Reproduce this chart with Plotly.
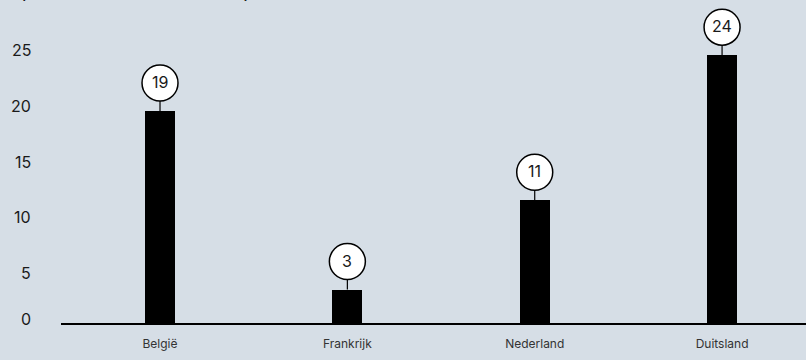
import plotly.graph_objects as go

categories = ["België", "Frankrijk", "Nederland", "Duitsland"]
values = [19, 3, 11, 24]
y_ticks = [0, 5, 10, 15, 20, 25]
title_text = "(in aantal nieuwe banen)"

BG = "#d6dee6"
FONT = "Inter, 'Noto Sans', sans-serif"
xs = list(range(len(categories)))

fig = go.Figure()
fig.add_trace(go.Bar(
    x=xs, y=values, width=0.16,
    marker=dict(color="#000000", line=dict(width=0)),
    hoverinfo="skip", showlegend=False,
))

shapes = []
annotations = []
for x, v in zip(xs, values):
    # connector line from bar top to circle
    shapes.append(dict(type="line", xref="x", yref="y", xsizemode="pixel", ysizemode="pixel",
                       xanchor=x, yanchor=v, x0=0, x1=0, y0=0, y1=11,
                       line=dict(color="#000000", width=1.2), layer="above"))
    shapes.append(dict(type="circle", xref="x", yref="y", xsizemode="pixel", ysizemode="pixel",
                       xanchor=x, yanchor=v, x0=-18, x1=18, y0=10, y1=46,
                       line=dict(color="#000000", width=1.5), fillcolor="#ffffff", layer="above"))
    annotations.append(dict(x=x, y=v, xref="x", yref="y", text=str(v), showarrow=False,
                            yshift=29, font=dict(family=FONT, size=16, color="#1a1a1a")))

for t in y_ticks:
    annotations.append(dict(x=0, y=t, xref="paper", yref="y", xanchor="right", text=str(t),
                            showarrow=False, xshift=-28, yshift=(4 if t == 0 else -6),
                            font=dict(family=FONT, size=16, color="#1a1a1a")))

annotations.append(dict(x=0, y=1, xref="paper", yref="paper", xanchor="left", yanchor="bottom",
                        xshift=-44, yshift=-5.5, text=title_text, showarrow=False,
                        font=dict(family=FONT, size=20, color="#1a1a1a")))

fig.update_layout(
    width=806, height=360,
    margin=dict(l=61, r=0, t=0, b=37),
    paper_bgcolor=BG, plot_bgcolor=BG,
    shapes=shapes, annotations=annotations,
    xaxis=dict(range=[-0.5285, 3.448], tickvals=xs, ticktext=categories,
               showgrid=False, zeroline=False, showline=True, linecolor="#000000", linewidth=2,
               ticks="", ticklabelstandoff=9,
               tickfont=dict(family=FONT, size=12, color="#333333"), fixedrange=True),
    yaxis=dict(range=[0, 323 / 11.16], showgrid=False, zeroline=False, showline=False,
               showticklabels=False, ticks="", fixedrange=True),
    bargap=0,
)

fig.write_html("out.html")
